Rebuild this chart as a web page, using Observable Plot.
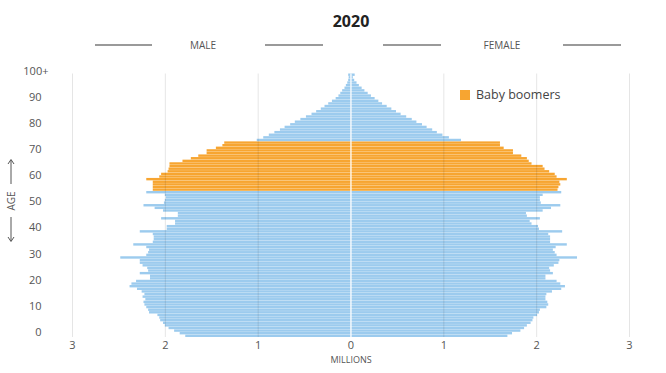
<!DOCTYPE html>
<html>
<head>
<meta charset="utf-8">
<script src="https://cdn.jsdelivr.net/npm/d3@7"></script>
<script src="https://cdn.jsdelivr.net/npm/@observablehq/plot@0.6"></script>
<style>
  body { margin: 0; background: #fff; font-family: "Open Sans", sans-serif; }
  #wrap { position: relative; width: 666px; height: 373px; overflow: hidden; }
  #head { position: relative; height: 60px; }
  .abs { position: absolute; white-space: nowrap; }
  .rule { position: absolute; height: 2px; background: #9a9a9a; top: 44px; }
  .side { font-size: 10px; line-height: 10px; top: 40px; color: #555; transform: translateX(-50%); }
</style>
</head>
<body>
<div id="wrap">
  <div id="head">
    <div class="abs" style="left:351px;top:12px;transform:translateX(-50%);font-size:16px;line-height:18px;font-weight:700;color:#222;">2020</div>
    <div class="rule" style="left:95px;width:57px;"></div>
    <div class="abs side" style="left:203px;">MALE</div>
    <div class="rule" style="left:265px;width:58px;"></div>
    <div class="rule" style="left:383px;width:58px;"></div>
    <div class="abs side" style="left:502px;">FEMALE</div>
    <div class="rule" style="left:563px;width:58px;"></div>
  </div>
  <div id="chart"></div>
  <div class="abs" id="legend" style="left:460px;top:88px;font-size:12.5px;line-height:14px;color:#444;">
    <span style="display:inline-block;width:10px;height:10px;background:#f7a531;vertical-align:-1px;margin-right:6px;"></span>Baby boomers
  </div>
  <svg class="abs" style="left:0;top:150px;" width="24" height="100" viewBox="0 150 24 100">
    <g stroke="#555" stroke-width="1" fill="none">
      <line x1="11" y1="160" x2="11" y2="184"></line>
      <polyline points="8,164 11,159.5 14,164"></polyline>
      <line x1="11" y1="217" x2="11" y2="241"></line>
      <polyline points="8,237 11,241.5 14,237"></polyline>
    </g>
    <text x="11" y="201" transform="rotate(-90 11 201)" text-anchor="middle" dominant-baseline="central" font-size="10" fill="#555" font-family="Open Sans">AGE</text>
  </svg>
</div>
<script>
const ages = d3.range(0, 101);
const male = [
  1.78, 1.84, 1.90, 1.96, 2.00, 2.02, 2.05, 2.06, 2.08, 2.17,
  2.18, 2.20, 2.22, 2.23, 2.21, 2.24, 2.22, 2.25, 2.30, 2.38,
  2.36, 2.31, 2.16, 2.16, 2.27, 2.18, 2.19, 2.24, 2.27, 2.27,
  2.48, 2.20, 2.18, 2.17, 2.20, 2.34, 2.13, 2.12, 2.12, 2.13,
  2.27, 1.98, 1.98, 1.89, 1.89, 2.04, 1.86, 1.86, 2.02, 2.11,
  2.23, 2.01, 2.00, 1.99, 2.00, 2.20, 2.13, 2.13, 2.13, 2.13,
  2.20, 2.06, 2.04, 1.97, 1.96, 1.95, 1.95, 1.81, 1.72, 1.64,
  1.55, 1.55, 1.45, 1.38, 1.36, 1.01, 0.94, 0.88, 0.82, 0.76,
  0.71, 0.65, 0.60, 0.54, 0.48, 0.42, 0.37, 0.32, 0.28, 0.24,
  0.20, 0.16, 0.13, 0.11, 0.09, 0.065, 0.05, 0.035, 0.025, 0.02,
  0.025
];
const female = [
  1.69, 1.74, 1.83, 1.87, 1.90, 1.94, 1.96, 1.97, 2.01, 2.03,
  2.04, 2.11, 2.13, 2.12, 2.10, 2.10, 2.11, 2.17, 2.27, 2.31,
  2.26, 2.22, 2.10, 2.10, 2.18, 2.15, 2.14, 2.19, 2.24, 2.25,
  2.44, 2.22, 2.20, 2.18, 2.21, 2.33, 2.15, 2.15, 2.15, 2.13,
  2.28, 2.03, 2.02, 1.95, 1.93, 2.04, 1.90, 1.89, 2.07, 2.16,
  2.26, 2.05, 2.04, 2.04, 2.07, 2.27, 2.23, 2.24, 2.26, 2.25,
  2.33, 2.22, 2.20, 2.14, 2.09, 2.07, 1.95, 1.92, 1.90, 1.84,
  1.75, 1.75, 1.65, 1.61, 1.61, 1.19, 1.06, 0.99, 0.93, 0.88,
  0.82, 0.77, 0.71, 0.66, 0.60, 0.54, 0.49, 0.44, 0.39, 0.34,
  0.30, 0.26, 0.22, 0.185, 0.15, 0.12, 0.09, 0.065, 0.04, 0.025,
  0.045
];
const boomerAges = [56, 74];
const groups = ["Other", "Baby boomers"];
const groupColors = ["#9ccbee", "#f7a531"];
const xTicks = [-3, -2, -1, 0, 1, 2, 3];
const yTicks = [0, 10, 20, 30, 40, 50, 60, 70, 80, 90];
const topAge = [100];

const rows = ages.map((a, i) => ({
  age: a,
  male: male[i],
  female: female[i],
  group: a >= boomerAges[0] && a <= boomerAges[1] ? groups[1] : groups[0]
}));

const chart = Plot.plot({
  width: 666,
  height: 313,
  marginLeft: 72,
  marginRight: 37,
  marginTop: 13.5,
  marginBottom: 36,
  style: { fontFamily: "Open Sans", background: "white", overflow: "visible" },
  x: { domain: [-3, 3], axis: null },
  y: { type: "band", domain: ages.slice().reverse(), paddingInner: 0.08, paddingOuter: 0, round: false, axis: null },
  color: { domain: groups, range: groupColors },
  marks: [
    Plot.barX(rows, { y: "age", x1: 0, x2: d => -d.male, fill: "group" }),
    Plot.barX(rows, { y: "age", x1: 0, x2: "female", fill: "group" }),
    Plot.ruleX(xTicks.filter(d => d !== 0), { stroke: "#000", strokeOpacity: 0.1 }),
    Plot.ruleX([0], { stroke: "white", strokeWidth: 1.2 }),
    Plot.text(xTicks, { x: d => d, text: d => String(Math.abs(d)), frameAnchor: "bottom", dy: 11.5, fontSize: 11, fill: "#555" }),
    Plot.text(["MILLIONS"], { frameAnchor: "bottom", dy: 25, fontSize: 9, fill: "#555" }),
    Plot.text(yTicks, { y: d => d, text: d => String(d), frameAnchor: "left", dx: -31, dy: -4, textAnchor: "end", fontSize: 11, fill: "#555" }),
    Plot.text(topAge, { y: d => d, text: d => d + "+", frameAnchor: "left", dx: -24, dy: -4, textAnchor: "end", fontSize: 11, fill: "#555" })
  ]
});
document.getElementById("chart").appendChild(chart);
</script>
</body>
</html>
